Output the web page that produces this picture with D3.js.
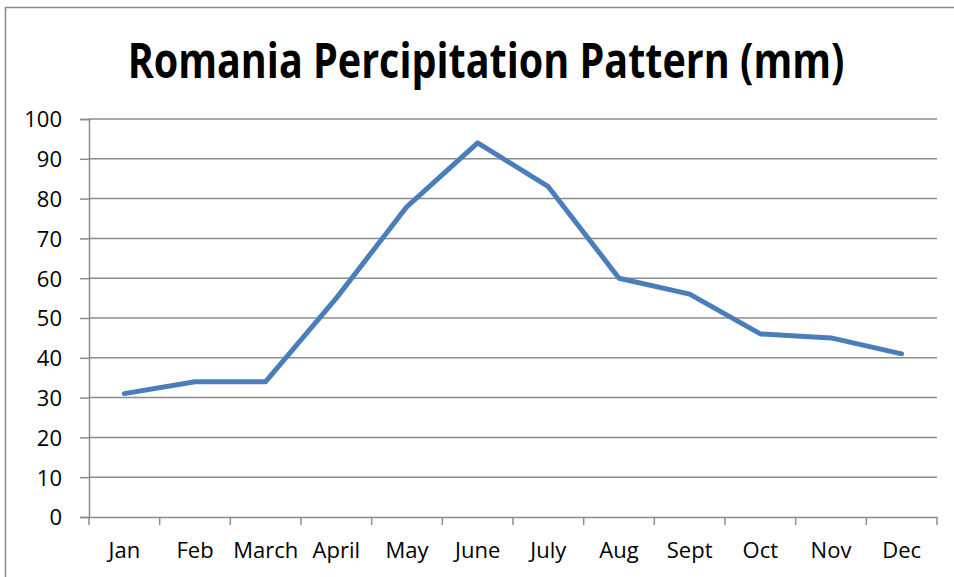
<!DOCTYPE html>
<html><head><meta charset="utf-8">
<script src="https://cdn.jsdelivr.net/npm/d3@7/dist/d3.min.js"></script>
<style>html,body{margin:0;padding:0;background:#fff;overflow:hidden}</style>
</head><body>
<svg id="c" width="954" height="577"></svg>
<script>
const months = ["Jan","Feb","March","April","May","June","July","Aug","Sept","Oct","Nov","Dec"];
const precipitation = [31,34,34,55,78,94,83,60,56,46,45,41];
const yTicks = [0,10,20,30,40,50,60,70,80,90,100];
const title = "Romania Percipitation Pattern (mm)";

(function(){
const svg = d3.select("#c");
const pLeft = 89, pRight = 937, pTop = 119, pBottom = 517;
const font = "'Open Sans', Calibri, sans-serif";

svg.append("rect").attr("x",5.5).attr("y",7.5).attr("width",1000).attr("height",1000)
  .attr("fill","#fff").attr("stroke","#8a8a8a").attr("stroke-width",1.5);

const x = d3.scaleBand().domain(months).range([pLeft,pRight]);
const y = d3.scaleLinear().domain([0,100]).range([pBottom,pTop]);

// gridlines
svg.append("g").selectAll("line").data(yTicks.filter(d=>d>0)).join("line")
  .attr("x1",pLeft).attr("x2",pRight).attr("y1",d=>y(d)).attr("y2",d=>y(d))
  .attr("stroke","#8c8c8c").attr("stroke-width",1.5);

// y axis
const ya = svg.append("g").attr("transform",`translate(${pLeft},0)`)
  .call(d3.axisLeft(y).tickValues(yTicks).tickSize(9).tickPadding(18));
ya.select(".domain").attr("stroke","#8c8c8c").attr("stroke-width",1.5);
ya.selectAll(".tick line").attr("stroke","#8c8c8c").attr("stroke-width",1.5);
ya.selectAll("text").attr("font-family",font).attr("font-size",22).attr("fill","#000")
  .attr("dy","0.36em");

// x axis
const xa = svg.append("g").attr("transform",`translate(0,${pBottom})`)
  .call(d3.axisBottom(x).tickSize(0).tickPadding(25));
xa.select(".domain").attr("stroke","#8c8c8c").attr("stroke-width",1.5);
xa.selectAll(".tick text").attr("font-family",font).attr("font-size",22).attr("fill","#000");
const bounds = months.map(m=>x(m)).concat([pRight]);
xa.append("g").selectAll("line").data(bounds).join("line")
  .attr("x1",d=>d).attr("x2",d=>d).attr("y1",0).attr("y2",8)
  .attr("stroke","#8c8c8c").attr("stroke-width",1.5);

// line
const line = d3.line().x((d,i)=>x(months[i])+x.bandwidth()/2).y(d=>y(d));
svg.append("path").datum(precipitation).attr("d",line)
  .attr("fill","none").attr("stroke","#4a7ebb").attr("stroke-width",5)
  .attr("stroke-linejoin","round").attr("stroke-linecap","round");

// title, scaled horizontally to the reference width
const tg = svg.append("g");
const t = tg.append("text").attr("x",0).attr("y",0).attr("text-anchor","middle")
  .attr("font-family",font).attr("font-weight","bold").attr("font-size",49)
  .attr("fill","#000").text(title);
const w = t.node().getComputedTextLength();
const sx = 717 / w;
tg.attr("transform",`translate(486,78) scale(${sx},1)`);
})();
</script>
</body></html>
